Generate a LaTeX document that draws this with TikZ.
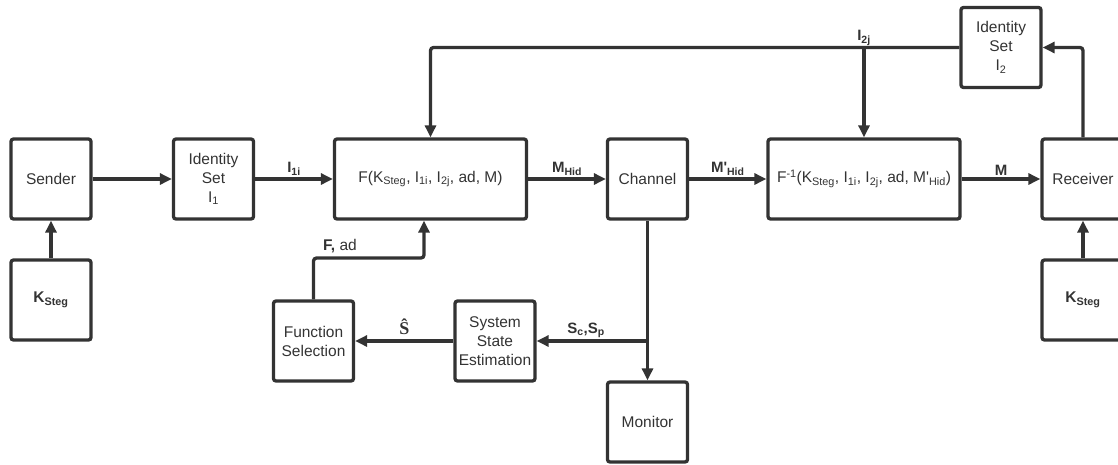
\documentclass[tikz,border=0pt]{standalone}
\usepackage{fontspec}
\setmainfont{Liberation Sans}
\newfontfamily\lsans{Liberation Sans}
\newfontfamily\lserif{Liberation Serif}
\usetikzlibrary{arrows.meta}
\definecolor{ink}{HTML}{333333}
\newcommand{\lsb}[1]{\textsubscript{#1}}
\newcommand{\lsp}[1]{\textsuperscript{#1}}
\begin{document}
\begin{tikzpicture}[x=1pt,y=-1pt,
  box/.style={draw=ink, line width=3.3pt, rounded corners=2.5pt, minimum width=80pt, minimum height=80pt,
    inner sep=2pt, align=center, font=\lsans\fontsize{15.5}{19}\selectfont, text=ink},
  wide/.style={box, minimum width=192pt},
  conn/.style={draw=ink, line width=3.3pt, -{Triangle[length=12pt,width=11pt]}, rounded corners=3pt},
  lbl/.style={font=\lsans\fontsize{15}{19}\selectfont\bfseries, text=ink, inner sep=2pt}]
\useasboundingbox (0,0) rectangle (1118,464);
\clip (0,0) rectangle (1118,464);

% boxes
\node[box] (sender) at (51,179) {Sender};
\node[box] (ksl) at (51,300) {\textbf{K\lsb{Steg}}};
\node[box] (i1) at (213.5,179) {Identity\\Set\\I\lsb{1}};
\node[wide] (f) at (430.5,179) {F(K\lsb{Steg}, I\lsb{1i}, I\lsb{2j}, ad, M)};
\node[box] (ch) at (647.5,179) {Channel};
\node[wide] (finv) at (864,179) {F\lsp{-1}(K\lsb{Steg}, I\lsb{1i}, I\lsb{2j}, ad, M'\lsb{Hid})};
\node[box, minimum width=82pt] (rec) at (1083,179) {Receiver};
\node[box, minimum width=82pt] (ksr) at (1083,300) {\textbf{K\lsb{Steg}}};
\node[box] (i2) at (1001,47.5) {Identity\\Set\\I\lsb{2}};
\node[box] (fs) at (313.5,341) {Function\\Selection};
\node[box] (sse) at (495,341) {System\\State\\Estimation};
\node[box] (mon) at (647.5,422) {Monitor};

% main chain
\draw[conn] (sender) -- (i1);
\draw[conn] (i1) -- node[lbl, above]{I\lsb{1i}} (f);
\draw[conn] (f) -- node[lbl, above]{M\lsb{Hid}} (ch);
\draw[conn] (ch) -- node[lbl, above]{M'\lsb{Hid}} (finv);
\draw[conn] (finv) -- node[lbl, above]{M} (rec);
\draw[conn] (ksl) -- (sender);
\draw[conn] (ksr) -- (rec);

% identity set 2 loop
\draw[conn] (rec.north) |- (i2.east);
\draw[conn] (i2.west) -| (f.north);
\coordinate (j1) at (finv.north |- i2.west);
\node[lbl, above] (l2j) at (j1) {I\lsb{2j}};
\draw[conn] (j1) -- (finv.north);

% channel to monitor and estimation
\draw[conn] (ch) -- (mon);
\coordinate (j2) at (ch.south |- sse.east);
\draw[conn] (j2) -- node[lbl, above, xshift=-6pt]{S\lsb{c},S\lsb{p}} (sse);
\draw[conn] (sse) -- node[above, text=ink, font=\lserif\fontsize{18}{20}\selectfont\bfseries, yshift=1pt]{Ŝ} (fs);

% function selection feedback
\coordinate (fad) at (424,258);
\draw[conn] (fs.north) |- (fad) -- (fad |- f.south);
\node[font=\lsans\fontsize{15.5}{19}\selectfont, text=ink] (lfad) at (340,246) {\textbf{F,} ad};
\end{tikzpicture}
\end{document}
